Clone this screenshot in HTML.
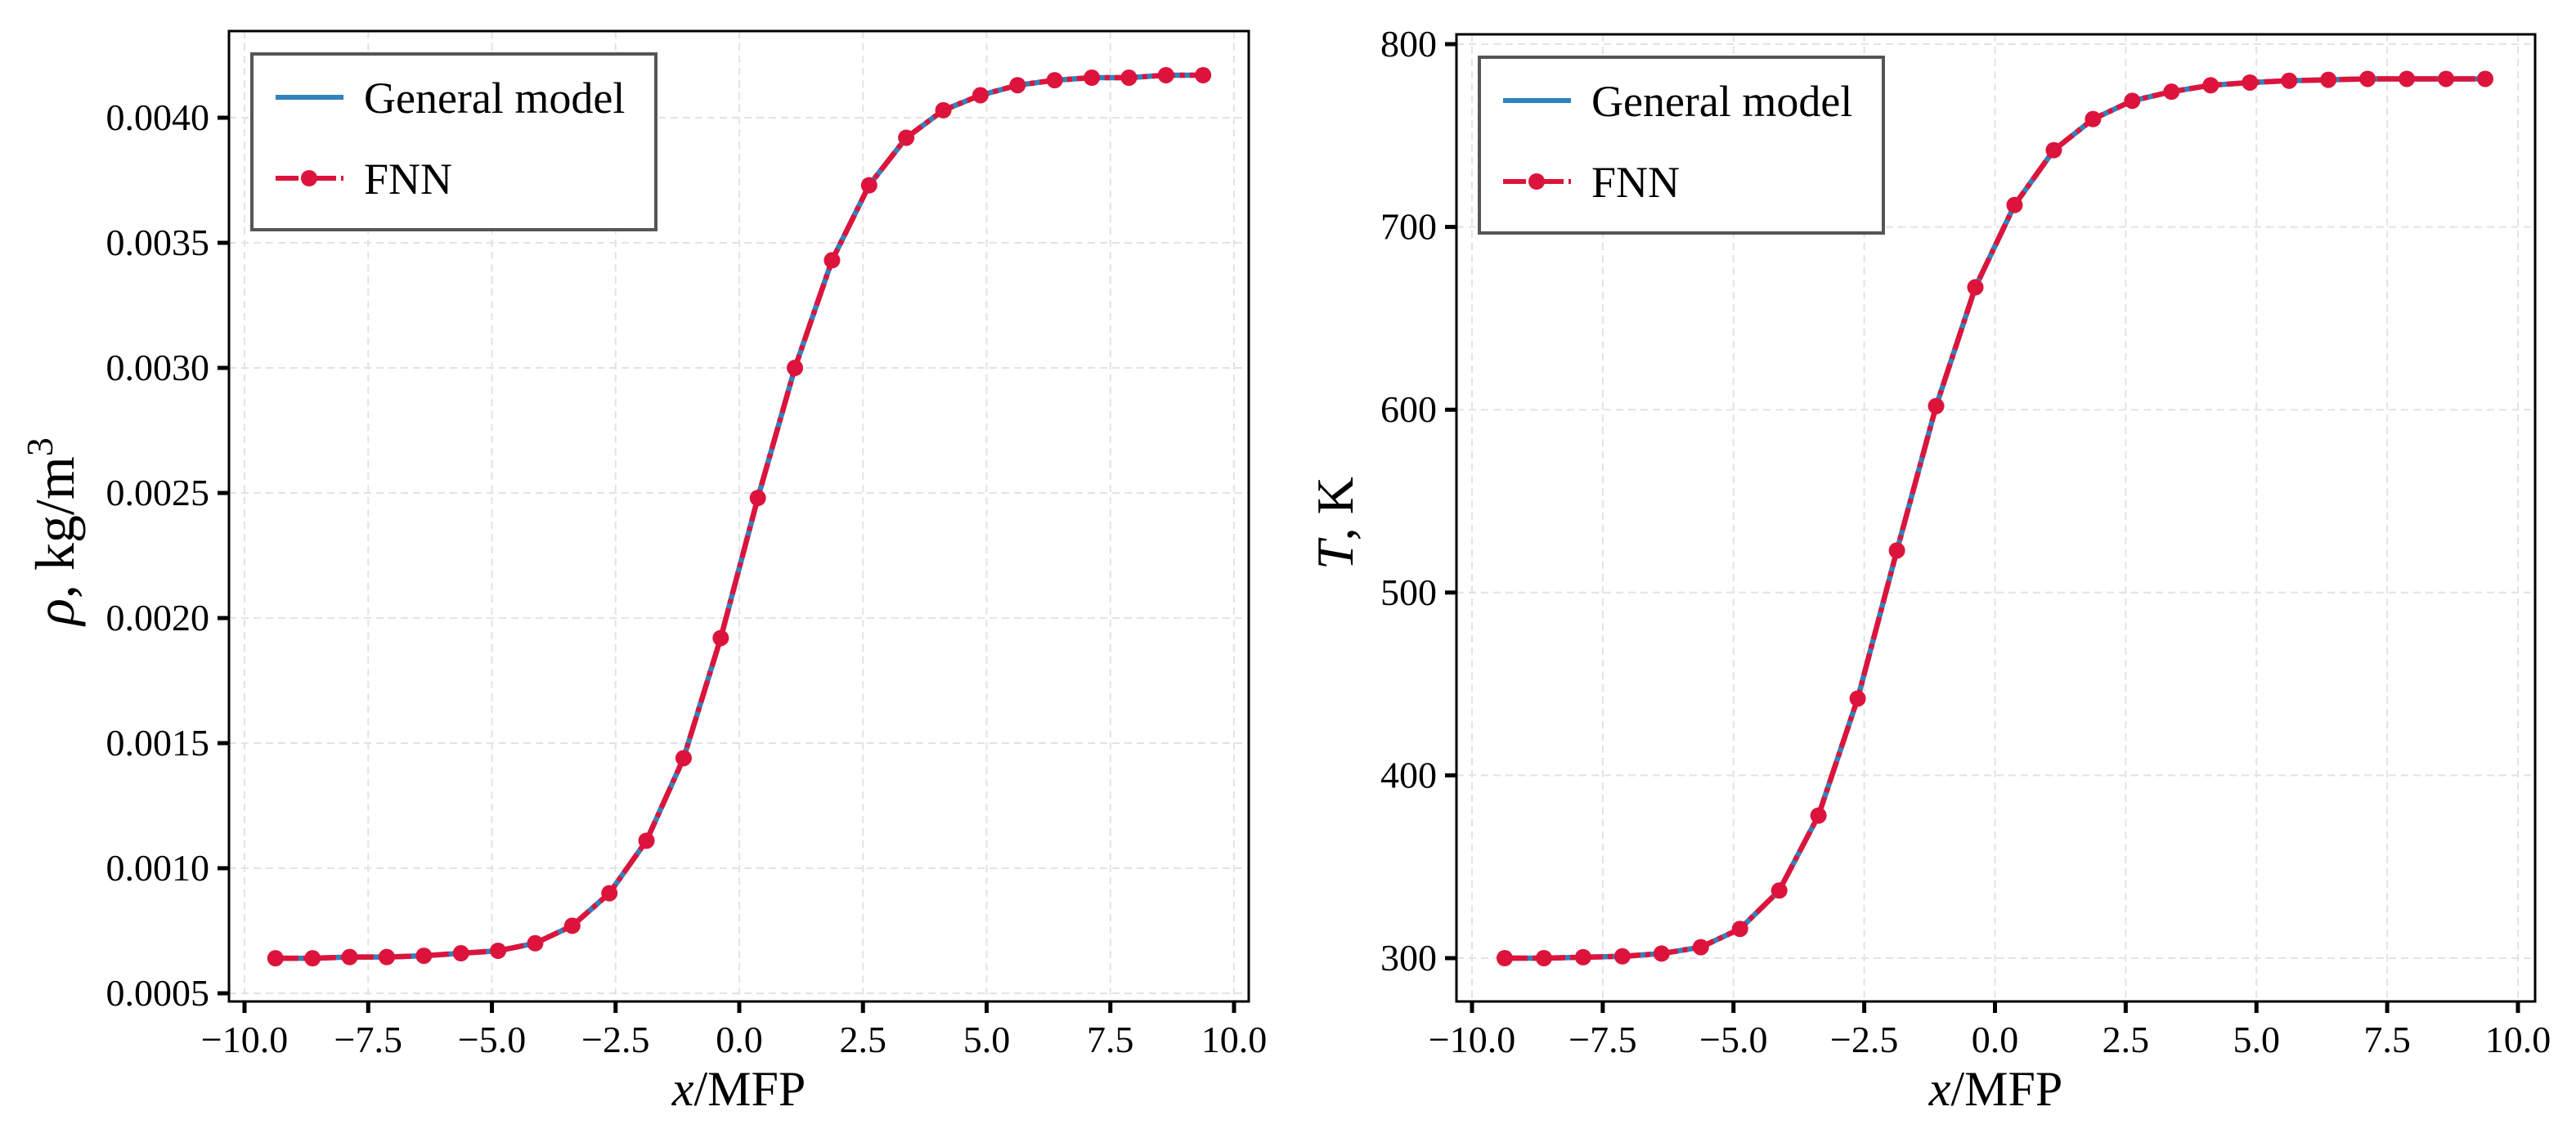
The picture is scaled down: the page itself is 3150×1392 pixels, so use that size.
<!DOCTYPE html>
<html><head><meta charset="utf-8"><style>
html,body{margin:0;padding:0;background:#fff;}
svg{display:block;font-family:"Liberation Serif",serif;}
</style></head><body>
<svg id="fig" width="3150" height="1392" viewBox="0 0 3150 1392" xmlns="http://www.w3.org/2000/svg"></svg>
<script>
const xs = [-9.375,-8.625,-7.875,-7.125,-6.375,-5.625,-4.875,-4.125,-3.375,-2.625,-1.875,-1.125,-0.375,0.375,1.125,1.875,2.625,3.375,4.125,4.875,5.625,6.375,7.125,7.875,8.625,9.375];
const rhoGeneral = [0.00064,0.00064,0.000645,0.000645,0.00065,0.00066,0.00067,0.00070,0.00077,0.00090,0.00111,0.00144,0.00192,0.00248,0.00300,0.00343,0.00373,0.00392,0.00403,0.00409,0.00413,0.00415,0.00416,0.00416,0.00417,0.00417];
const rhoFNN = [0.00064,0.00064,0.000645,0.000645,0.00065,0.00066,0.00067,0.00070,0.00077,0.00090,0.00111,0.00144,0.00192,0.00248,0.00300,0.00343,0.00373,0.00392,0.00403,0.00409,0.00413,0.00415,0.00416,0.00416,0.00417,0.00417];
const tGeneral = [300,300,300.5,301,302.5,306,316,337,378,442,523,602,667,712,742,759,769,774,777.5,779,780,780.5,781,781,781,781];
const tFNN = [300,300,300.5,301,302.5,306,316,337,378,442,523,602,667,712,742,759,769,774,777.5,779,780,780.5,781,781,781,781];
const xTicks = [-10,-7.5,-5,-2.5,0,2.5,5,7.5,10];
const xTickLabels = ["\u221210.0","\u22127.5","\u22125.0","\u22122.5","0.0","2.5","5.0","7.5","10.0"];
const rhoTicks = [0.0005,0.0010,0.0015,0.0020,0.0025,0.0030,0.0035,0.0040];
const rhoTickLabels = ["0.0005","0.0010","0.0015","0.0020","0.0025","0.0030","0.0035","0.0040"];
const tTicks = [300,400,500,600,700,800];
const tTickLabels = ["300","400","500","600","700","800"];

const NS="http://www.w3.org/2000/svg";
const svg=document.getElementById('fig');
function mk(tag,attrs,parent){const e=document.createElementNS(NS,tag);for(const k in attrs)e.setAttribute(k,attrs[k]);(parent||svg).appendChild(e);return e;}

function panel(cfg){
  const g=mk('g',{});
  
  
  const X=v=>cfg.x0px+(v-cfg.x0v)*(cfg.x1px-cfg.x0px)/(cfg.x1v-cfg.x0v);
  const Y=v=>cfg.y0px+(v-cfg.y0v)*(cfg.y1px-cfg.y0px)/(cfg.y1v-cfg.y0v);
  cfg.xticks.forEach(t=>{
    const l=mk('line',{x1:X(t),x2:X(t),y1:cfg.top,y2:cfg.bottom,stroke:'#e3e3e3','stroke-width':2,'stroke-dasharray':'9,6'},g);
    
    
  });
  cfg.yticks.forEach(t=>{
    const l=mk('line',{x1:cfg.left,x2:cfg.right,y1:Y(t),y2:Y(t),stroke:'#e3e3e3','stroke-width':2,'stroke-dasharray':'9,6'},g);
    
    
  });
  const ptsG=cfg.xs.map((x,i)=>X(x)+','+Y(cfg.gen[i])).join(' ');
  const pg=mk('polyline',{points:ptsG,fill:'none',stroke:'#3182bd','stroke-width':6.5,'stroke-linejoin':'round'},g);
  
  
  const ptsF=cfg.xs.map((x,i)=>X(x)+','+Y(cfg.fnn[i])).join(' ');
  const pf=mk('polyline',{points:ptsF,fill:'none',stroke:'#dc143c','stroke-width':6.5,'stroke-dasharray':'28,6,6,6'},g);
  
  
  cfg.xs.forEach((x,i)=>{
    const c=mk('circle',{cx:X(x),cy:Y(cfg.fnn[i]),r:10,fill:'#dc143c'},g);
    
    
  });
  const sp=mk('rect',{x:cfg.left,y:cfg.top,width:cfg.right-cfg.left,height:cfg.bottom-cfg.top,fill:'none',stroke:'#000','stroke-width':3},g);
  
  
  cfg.xticks.forEach((t,i)=>{
    const tk=mk('line',{x1:X(t),x2:X(t),y1:cfg.bottom,y2:cfg.bottom+14,stroke:'#000','stroke-width':5},g);
    
    
    const tx=mk('text',{x:X(t),y:cfg.bottom+62,'text-anchor':'middle','font-size':46,fill:'#000'},g);
    tx.textContent=cfg.xlabels[i];
    
    
  });
  cfg.yticks.forEach((t,i)=>{
    const tk=mk('line',{x1:cfg.left-14,x2:cfg.left,y1:Y(t),y2:Y(t),stroke:'#000','stroke-width':5},g);
    
    
    const tx=mk('text',{x:cfg.left-24,y:Y(t)+15,'text-anchor':'end','font-size':46,fill:'#000'},g);
    tx.textContent=cfg.ylabels[i];
    
    
  });
  const xt=mk('text',{x:(cfg.left+cfg.right)/2,y:1352,'text-anchor':'middle','font-size':60,fill:'#000'},g);
  xt.innerHTML='<tspan font-style="italic">x</tspan>/MFP';
  
  
  const yt=mk('text',{x:0,y:0,'text-anchor':'middle','font-size':cfg.ytfs,fill:'#000',transform:'translate('+cfg.ytx+','+cfg.yty+') rotate(-90)'},g);
  yt.innerHTML=cfg.ytitle;
  
  
  const lg=mk('g',{},g);
  
  
  const lx=cfg.left+28, ly=cfg.top+28;
  mk('rect',{x:lx,y:ly,width:494,height:215,fill:'#fff',stroke:'#555','stroke-width':4},lg);
  const e1=mk('g',{},lg);
  
  
  mk('line',{x1:lx+29,x2:lx+112,y1:ly+53,y2:ly+53,stroke:'#3182bd','stroke-width':6},e1);
  const t1=mk('text',{x:lx+137,y:ly+72,'font-size':54,fill:'#000'},e1);
  t1.textContent='General model';
  const e2=mk('g',{},lg);
  
  
  mk('line',{x1:lx+29,x2:lx+112,y1:ly+152,y2:ly+152,stroke:'#dc143c','stroke-width':6,'stroke-dasharray':'28,6,6,6'},e2);
  mk('circle',{cx:lx+70,cy:ly+152,r:10,fill:'#dc143c'},e2);
  const t2=mk('text',{x:lx+137,y:ly+171,'font-size':54,fill:'#000'},e2);
  t2.textContent='FNN';
}

panel({name:'density-panel',xs:xs,gen:rhoGeneral,fnn:rhoFNN,
  left:280,right:1527,top:38,bottom:1225,
  x0v:-10,x1v:10,x0px:299,x1px:1509,
  y0v:0.0005,y1v:0.0040,y0px:1215,y1px:144,
  xticks:xTicks,xlabels:xTickLabels,yticks:rhoTicks,ylabels:rhoTickLabels,
  ytx:90,yty:650,ytfs:68,ytitle:'<tspan font-style="italic">ρ</tspan>, kg/m<tspan font-size="46" dy="-26">3</tspan>'});
panel({name:'temperature-panel',xs:xs,gen:tGeneral,fnn:tFNN,
  left:1781,right:3100,top:42,bottom:1225,
  x0v:-10,x1v:10,x0px:1800,x1px:3079,
  y0v:300,y1v:800,y0px:1172,y1px:54,
  xticks:xTicks,xlabels:xTickLabels,yticks:tTicks,ylabels:tTickLabels,
  ytx:1654,yty:640,ytfs:64,ytitle:'<tspan font-style="italic">T</tspan>, K'});
</script>
</body></html>
